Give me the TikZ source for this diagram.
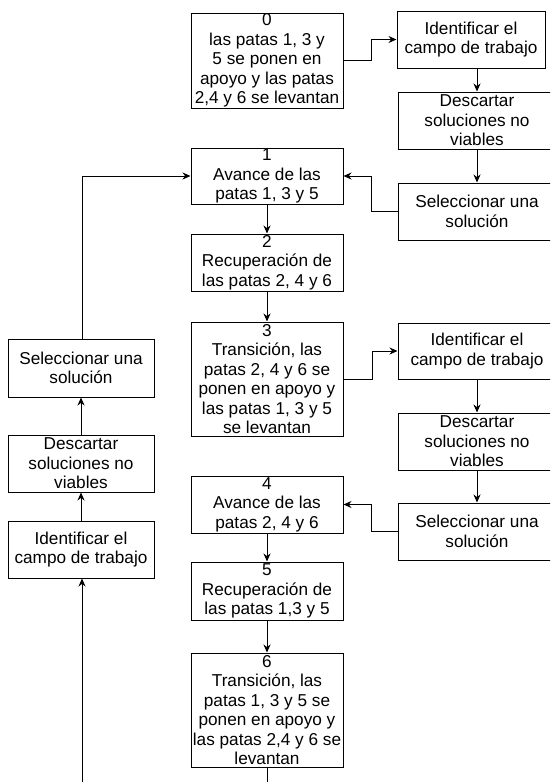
\documentclass[tikz,border=0pt]{standalone}
\usepackage{fontspec}
\setmainfont{Liberation Sans}
\usetikzlibrary{arrows.meta}
\tikzset{
	paso/.style={draw, line width=1pt, align=center, inner sep=0pt, minimum width=152pt, font=\fontsize{17.2}{19.5}\selectfont},
	flecha/.style={line width=1pt, -{Stealth[length=8pt,width=7pt]}},
	linea/.style={line width=1pt},
}
\begin{document}
\begin{tikzpicture}[x=1pt, y=-1pt]
		\useasboundingbox (0,0) rectangle (550,782);
		\clip (0,0) rectangle (550,782);
		% columna central
		\node[paso, minimum height=95pt] (p0) at (267,60.5) {0\\las patas 1, 3 y\\5 se ponen en\\apoyo y las patas\\2,4 y 6 se levantan};
		\node[paso, minimum height=56pt] (p1) at (267,176) {1\\Avance de las\\patas 1, 3 y 5};
		\node[paso, minimum height=57pt] (p2) at (267,262.5) {2\\Recuperación de\\las patas 2, 4 y 6};
		\node[paso, minimum height=114pt] (p3) at (267,379) {3\\Transición, las\\patas 2, 4 y 6 se\\ponen en apoyo y\\las patas 1, 3 y 5\\se levantan};
		\node[paso, minimum height=57pt] (p4) at (267,504.5) {4\\Avance de las\\patas 2, 4 y 6};
		\node[paso, minimum height=58pt] (p5) at (267,591) {5\\Recuperación de\\las patas 1,3 y 5};
		\node[paso, minimum height=114pt] (p6) at (267,710) {6\\Transición, las\\patas 1, 3 y 5 se\\ponen en apoyo y\\las patas 2,4 y 6 se\\levantan};
		% columna derecha
		\node[paso, minimum width=148pt, minimum height=57pt] (idA) at (471,39.5) {Identificar el\\campo de trabajo};
		\node[paso, minimum width=158pt, minimum height=57pt] (deA) at (477,120.5) {Descartar\\soluciones no\\viables};
		\node[paso, minimum width=158pt, minimum height=57pt] (seA) at (477,211.5) {Seleccionar una\\solución};
		\node[paso, minimum width=158pt, minimum height=56pt] (idB) at (477,351) {Identificar el\\campo de trabajo};
		\node[paso, minimum width=158pt, minimum height=57pt] (deB) at (477,441.5) {Descartar\\soluciones no\\viables};
		\node[paso, minimum width=158pt, minimum height=57pt] (seB) at (477,531.5) {Seleccionar una\\solución};
		% columna izquierda
		\node[paso, minimum width=146pt, minimum height=58pt] (seL) at (81,368) {Seleccionar una\\solución};
		\node[paso, minimum width=146pt, minimum height=57pt] (deL) at (81,463.5) {Descartar\\soluciones no\\viables};
		\node[paso, minimum width=146pt, minimum height=57pt] (idL) at (81,549.5) {Identificar el\\campo de trabajo};
		\coordinate (finC) at (267,782);
		\coordinate (finL) at (82,782);
		% conexiones
		\draw[flecha] (p1) -- (p2);
		\draw[flecha] (p2) -- (p3);
		\draw[flecha] (p4) -- (p5);
		\draw[flecha] (p5) -- (p6);
		\draw[linea] (p6) -- (finC);
		\draw[flecha] (p0.east) -- ++(28,0) |- (idA.west);
		\draw[flecha] (idA.south -| deA.north) -- (deA.north);
		\draw[flecha] (deA) -- (seA);
		\draw[flecha] (seA.west) -- ++(-26,0) |- (p1.east);
		\draw[flecha] (p3.east) -- ++(29,0) |- (idB.west);
		\draw[flecha] (idB) -- (deB);
		\draw[flecha] (deB) -- (seB);
		\draw[flecha] (seB.west) -- ++(-26,0) |- (p4.east);
		\draw[flecha] (finL) -- (finL |- idL.south);
		\draw[flecha] (idL) -- (deL);
		\draw[flecha] (deL) -- (seL);
		\draw[flecha] (seL.north -| finL) |- (p1.west);
\end{tikzpicture}
\end{document}
